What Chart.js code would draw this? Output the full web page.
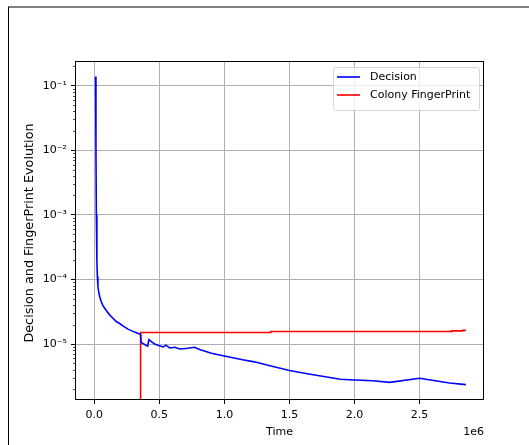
<!DOCTYPE html>
<html>
<head>
<meta charset="utf-8">
<script src="https://cdn.jsdelivr.net/npm/chart.js"></script>
<style>
  html, body { margin: 0; padding: 0; background: #fff; }
  canvas { display: block; }
</style>
</head>
<body>
<canvas id="evolution" width="529" height="445"></canvas>
<script>
// decision curve
const decisionTime = [
  10000, 13000, 16000, 19000, 21000, 24000, 28000, 33000, 42000, 54000,
  65000, 79000, 98000, 118000, 140000, 169000, 195000, 220000, 259000, 310000,
  348000, 356000, 360000, 400000, 410000, 420000, 464000, 500000, 530000, 550000,
  580000, 620000, 656000, 720000, 770000, 810000, 900000, 990000, 1140000, 1230000,
  1350000, 1500000, 1660000, 1890000, 2000000, 2140000, 2270000, 2500000, 2730000, 2856000
];
const decisionValue = [
  0.139, 1.0e-2, 1.0e-3, 4.0e-4, 2.0e-4, 1.1e-4, 8.0e-5, 6.6e-5, 5.4e-5, 4.5e-5,
  4.0e-5, 3.6e-5, 3.2e-5, 2.83e-5, 2.55e-5, 2.23e-5, 2.08e-5, 1.91e-5, 1.70e-5, 1.53e-5,
  1.43e-5, 1.40e-5, 1.06e-5, 9.5e-6, 9.3e-6, 1.17e-5, 1.0e-5, 9.4e-6, 9.0e-6, 9.6e-6,
  8.7e-6, 8.9e-6, 8.4e-6, 8.6e-6, 8.9e-6, 8.2e-6, 7.2e-6, 6.6e-6, 5.7e-6, 5.3e-6,
  4.6e-6, 3.9e-6, 3.4e-6, 2.85e-6, 2.78e-6, 2.7e-6, 2.55e-6, 2.95e-6, 2.5e-6, 2.35e-6
];

// colony fingerprint (zero before the first colony appears)
const fingerprintTime = [0, 356000, 356000, 1357000, 1357000, 2746000, 2746000, 2830000, 2830000, 2856000];
const fingerprintValue = [1e-12, 1e-12, 1.51e-5, 1.51e-5, 1.56e-5, 1.56e-5, 1.6e-5, 1.6e-5, 1.63e-5, 1.63e-5];

const xTicks = [0, 500000, 1000000, 1500000, 2000000, 2500000];
const yTicks = [1e-5, 1e-4, 1e-3, 1e-2, 1e-1];
const seriesNames = ["Decision", "Colony FingerPrint"];
const seriesColors = ["#0000ff", "#ff0000"];
const yTitle = "Decision and FingerPrint Evolution";

const FONT = "DejaVu Sans";
const FONT_SIZE = 11;
const Y_TITLE_SIZE = 12.8;
const sup = { "-": "\u207b", "0": "\u2070", "1": "\u00b9", "2": "\u00b2", "3": "\u00b3", "4": "\u2074", "5": "\u2075", "6": "\u2076", "7": "\u2077", "8": "\u2078", "9": "\u2079" };
const powLabel = (v) => "10" + String(Math.round(Math.log10(v))).split("").map((c) => sup[c]).join("");

const toPoints = (xs, ys) => xs.map((x, i) => ({ x: x, y: ys[i] }));

// frame, spines, minor ticks, y title, offset text and legend
const decorations = {
  id: "decorations",
  beforeDraw(chart) {
    const ctx = chart.ctx;
    ctx.save();
    ctx.strokeStyle = "#555";
    ctx.lineWidth = 1.5;
    ctx.beginPath();
    ctx.moveTo(8, 7);
    ctx.lineTo(529, 7);
    ctx.stroke();
    ctx.strokeStyle = "#000";
    ctx.lineWidth = 1;
    ctx.beginPath();
    ctx.moveTo(8.5, 7);
    ctx.lineTo(8.5, 445);
    ctx.stroke();
    ctx.restore();
  },
  afterDatasetsDraw(chart) {
    const { ctx, chartArea: a } = chart;
    ctx.save();
    ctx.strokeStyle = "#000";
    ctx.lineWidth = 1;
    ctx.strokeRect(Math.round(a.left) + 0.5, Math.round(a.top) + 0.5,
      Math.round(a.right - a.left) - 1, Math.round(a.bottom - a.top) - 1);
    ctx.restore();
  },
  afterDraw(chart) {
    const { ctx, chartArea: a, scales } = chart;
    const y = scales.y;
    ctx.save();
    // minor ticks on the log axis
    ctx.strokeStyle = "#000";
    ctx.lineWidth = 0.7;
    for (let e = -7; e <= 0; e++) {
      for (let k = 2; k <= 9; k++) {
        const v = k * Math.pow(10, e);
        if (v < y.min || v > y.max) continue;
        const py = Math.round(y.getPixelForValue(v)) + 0.5;
        ctx.beginPath();
        ctx.moveTo(a.left, py);
        ctx.lineTo(a.left - 2, py);
        ctx.stroke();
      }
    }
    ctx.fillStyle = "#000";

    // y axis title
    ctx.save();
    ctx.font = Y_TITLE_SIZE + "px '" + FONT + "'";
    ctx.translate(30, 233);
    ctx.rotate(-Math.PI / 2);
    ctx.textAlign = "center";
    ctx.textBaseline = "middle";
    ctx.fillText(yTitle, 0, 0);
    ctx.restore();

    ctx.font = FONT_SIZE + "px '" + FONT + "'";
    // scale factor for the time axis
    ctx.textAlign = "right";
    ctx.textBaseline = "middle";
    ctx.fillText("1e6", a.right, 432);

    // legend
    const bx = 333.5, by = 67.5, bw = 146, bh = 43;
    ctx.fillStyle = "rgba(255,255,255,0.8)";
    ctx.strokeStyle = "rgba(204,204,204,0.8)";
    ctx.lineWidth = 1;
    ctx.beginPath();
    ctx.roundRect(bx, by, bw, bh, 2.5);
    ctx.fill();
    ctx.stroke();
    ctx.textAlign = "left";
    seriesNames.forEach((name, i) => {
      const ly = 77 + i * 18;
      ctx.strokeStyle = seriesColors[i];
      ctx.lineWidth = 1.6;
      ctx.beginPath();
      ctx.moveTo(337, ly);
      ctx.lineTo(360, ly);
      ctx.stroke();
      ctx.fillStyle = "#000";
      ctx.fillText(name, 370, ly);
    });
    ctx.restore();
  }
};

new Chart(document.getElementById("evolution"), {
  type: "line",
  data: {
    datasets: [
      {
        label: seriesNames[0],
        data: toPoints(decisionTime, decisionValue),
        borderColor: seriesColors[0],
        borderWidth: 1.6,
        pointRadius: 0,
        tension: 0,
        fill: false
      },
      {
        label: seriesNames[1],
        data: toPoints(fingerprintTime, fingerprintValue),
        borderColor: seriesColors[1],
        borderWidth: 1.6,
        pointRadius: 0,
        tension: 0,
        fill: false
      }
    ]
  },
  options: {
    responsive: false,
    animation: false,
    devicePixelRatio: 1,
    layout: { padding: { left: 0, top: 61, right: 45, bottom: 0 } },
    plugins: {
      legend: { display: false },
      tooltip: { enabled: false }
    },
    scales: {
      x: {
        type: "linear",
        min: -148000,
        max: 2995000,
        afterFit: (s) => { s.height = 45; },
        afterBuildTicks: (s) => { s.ticks = xTicks.map((v) => ({ value: v })); },
        border: { display: false },
        grid: { color: "#b0b0b0", lineWidth: 1, drawTicks: true, tickLength: 4, tickColor: "#000" },
        ticks: {
          padding: 5,
          color: "#000",
          font: { family: FONT, size: FONT_SIZE },
          maxRotation: 0,
          callback: (v) => (v / 1e6).toFixed(1)
        },
        title: {
          display: true,
          text: "Time",
          color: "#000",
          font: { family: FONT, size: FONT_SIZE },
          padding: { top: 0, bottom: 6 }
        }
      },
      y: {
        type: "logarithmic",
        min: 1.36e-6,
        max: 0.241,
        afterFit: (s) => { s.width = 75; },
        afterBuildTicks: (s) => { s.ticks = yTicks.map((v) => ({ value: v, major: true })); },
        border: { display: false },
        grid: { color: "#b0b0b0", lineWidth: 1, drawTicks: true, tickLength: 4, tickColor: "#000" },
        ticks: {
          padding: 4,
          color: "#000",
          font: { family: FONT, size: FONT_SIZE },
          callback: (v) => powLabel(v)
        }
      }
    }
  },
  plugins: [decorations]
});
</script>
</body>
</html>
